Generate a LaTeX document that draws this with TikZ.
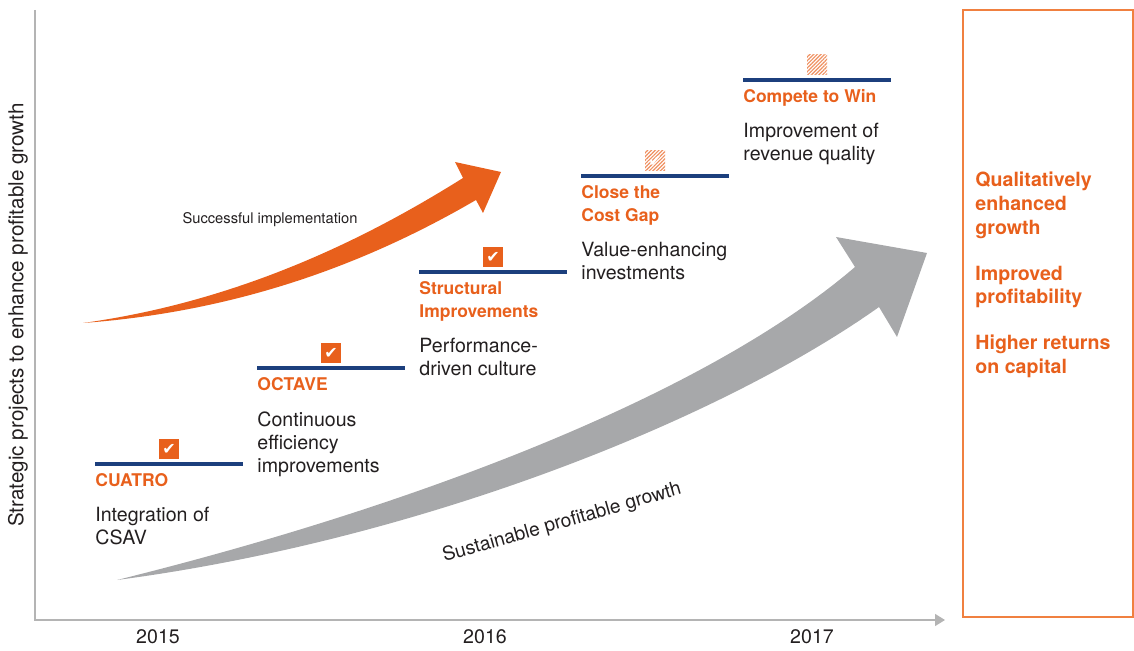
\documentclass[tikz,border=0pt]{standalone}
\usepackage{fontspec}
\setmainfont{TeX Gyre Heros}
\newfontfamily\symfont{DejaVu Sans}
\usetikzlibrary{calc,positioning,arrows.meta,patterns.meta}

\definecolor{brandorange}{HTML}{E8601C}
\definecolor{boxorange}{HTML}{F08040}
\definecolor{navy}{HTML}{1C3F7D}
\definecolor{arrowgray}{HTML}{A7A8AA}
\definecolor{axisgray}{HTML}{B4B4B4}
\definecolor{textdark}{HTML}{231F20}

\begin{document}
\begin{tikzpicture}[x=0.5pt,y=-0.5pt]

\tikzstyle{mybar} = [navy, line width=1.6pt]
\tikzstyle{mycheck} = [fill=brandorange, text=white, minimum size=10pt, inner sep=0pt, font=\symfont\fontsize{8pt}{8pt}\selectfont]
\tikzstyle{myhatch} = [mycheck, fill=none, pattern={Lines[angle=45,distance=1.3pt,line width=0.6pt]}, pattern color=brandorange!70]
\tikzstyle{mytitle} = [brandorange, inner sep=0pt, anchor=north west, align=left, font=\bfseries\fontsize{8.75pt}{11.5pt}\selectfont]
\tikzstyle{mytext} = [textdark, inner sep=0pt, anchor=north west, align=left, font=\fontsize{9.8pt}{11.5pt}\selectfont]

\useasboundingbox (0,0) rectangle (1134,651);

% \draw[step=50,gray,very thin] (0,0) grid (1134,651);

% axes and years
\draw[axisgray, line width=0.75pt, -{Triangle[length=5pt,width=6pt]}] (35,10) -- (35,620) -- (945,620);
\node (ylabel) [textdark, rotate=90, font=\fontsize{10.3pt}{12pt}\selectfont] at (18,315) {Strategic projects to enhance profitable growth};
\node (y15) [textdark, font=\fontsize{9.8pt}{12pt}\selectfont] at (158,637) {2015};
\node (y16) [textdark, font=\fontsize{9.8pt}{12pt}\selectfont] at (485,637) {2016};
\node (y17) [textdark, font=\fontsize{9.8pt}{12pt}\selectfont] at (812,637) {2017};

% big arrows
\fill[arrowgray] (117,580) .. controls (400,510) and (700,400) .. (855,267) -- (836,237) -- (927,253) -- (897,337) -- (879,307) .. controls (720,420) and (420,540) .. (117,580) -- cycle;
\node (sustain) [textdark, rotate=16, font=\fontsize{9.6pt}{12pt}\selectfont] at (562,523) {Sustainable profitable growth};

\fill[brandorange] (83,323) .. controls (250,300) and (380,230) .. (463,178) -- (455,162) -- (501,172) -- (483,213) -- (476,200) .. controls (390,250) and (260,310) .. (83,323) -- cycle;
\node (success) [textdark, font=\fontsize{7.35pt}{9pt}\selectfont] at (270,220) {Successful implementation};

% CUATRO
\coordinate (s1) at (95,464);
\draw[mybar] (s1) -- ++(148,0) coordinate (e1);
\node (c1) [mycheck] at ($(s1)!0.5!(e1)+(0,-15)$) {✔};
\node (t1) [mytitle, below right=4.75pt and 0pt of s1] {CUATRO};
\node (b1) [mytext] at ($(s1)+(0,43)$) {Integration of\\CSAV};

% OCTAVE
\coordinate (s2) at (257,368);
\draw[mybar] (s2) -- ++(148,0) coordinate (e2);
\node (c2) [mycheck] at ($(s2)!0.5!(e2)+(0,-15)$) {✔};
\node (t2) [mytitle, below right=4.75pt and 0pt of s2] {OCTAVE};
\node (b2) [mytext] at ($(s2)+(0,43)$) {Continuous\\efficiency\\improvements};

% Structural Improvements
\coordinate (s3) at (419,272);
\draw[mybar] (s3) -- ++(148,0) coordinate (e3);
\node (c3) [mycheck] at ($(s3)!0.5!(e3)+(0,-15)$) {✔};
\node (t3) [mytitle, below right=4.75pt and 0pt of s3] {Structural\\Improvements};
\node (b3) [mytext] at ($(s3)+(0,66)$) {Performance-\\driven culture};

% Close the Cost Gap
\coordinate (s4) at (581,176);
\draw[mybar] (s4) -- ++(148,0) coordinate (e4);
\node (c4) [myhatch] at ($(s4)!0.5!(e4)+(0,-15)$) {✔};
\node (t4) [mytitle, below right=4.75pt and 0pt of s4] {Close the\\Cost Gap};
\node (b4) [mytext] at ($(s4)+(0,66)$) {Value-enhancing\\investments};

% Compete to Win
\coordinate (s5) at (743,80);
\draw[mybar] (s5) -- ++(148,0) coordinate (e5);
\node (c5) [myhatch] at ($(s5)!0.5!(e5)+(0,-15)$) {};
\node (t5) [mytitle, below right=4.75pt and 0pt of s5] {Compete to Win};
\node (b5) [mytext] at ($(s5)+(0,43)$) {Improvement of\\revenue quality};

% goals box
\draw[boxorange, line width=1pt] (963,10) rectangle (1133,617);
\node (goals) [brandorange, anchor=north west, inner sep=0pt, align=left, font=\bfseries\fontsize{9.8pt}{11.75pt}\selectfont] at (975,172) {Qualitatively\\enhanced\\growth\\[11.25pt]Improved\\profitability\\[11.25pt]Higher returns\\on capital};

\end{tikzpicture}
\end{document}
